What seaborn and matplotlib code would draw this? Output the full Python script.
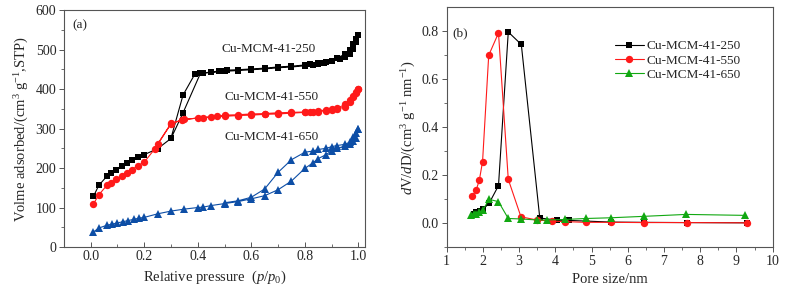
import matplotlib
matplotlib.use("Agg")
import matplotlib.pyplot as plt
import seaborn as sns
import pandas as pd

# (a) N2 isotherms: adsorption branch then desorption branch
p250_ads = [0.01, 0.03, 0.06, 0.075, 0.095, 0.115, 0.135, 0.155, 0.175, 0.2, 0.25, 0.3, 0.345, 0.41,
            0.45, 0.5, 0.55, 0.6, 0.65, 0.7, 0.75, 0.8, 0.83, 0.85, 0.87, 0.9, 0.93, 0.95, 0.97, 0.98, 0.99, 1.0]
v250_ads = [128, 156, 179, 188, 196, 206, 213, 221, 228, 234, 249, 275, 340, 440,
            442, 445, 447, 449, 451, 454, 456, 459, 462, 464, 466, 470, 476, 481, 490, 502, 518, 537]
p250_des = [1.0, 0.99, 0.98, 0.97, 0.95, 0.92, 0.9, 0.88, 0.85, 0.82, 0.8, 0.75, 0.7, 0.65, 0.6,
            0.55, 0.51, 0.48, 0.45, 0.42, 0.39, 0.345, 0.3]
v250_des = [537, 527, 515, 500, 488, 479, 472, 469, 467, 464, 461, 458, 456, 453, 451,
            449, 448, 446, 443, 441, 439, 385, 276]

p550_ads = [0.01, 0.03, 0.06, 0.075, 0.095, 0.115, 0.135, 0.155, 0.175, 0.2, 0.24, 0.3, 0.34, 0.4,
            0.45, 0.5, 0.55, 0.6, 0.65, 0.7, 0.75, 0.8, 0.83, 0.85, 0.88, 0.9, 0.92, 0.95, 0.97, 0.98, 0.99, 1.0]
v550_ads = [109, 132, 156, 162, 171, 179, 188, 196, 206, 215, 249, 312, 322, 327,
            329, 331, 333, 334, 336, 337, 339, 341, 342, 343, 345, 347, 349, 355, 368, 380, 390, 401]
p550_des = [1.0, 0.99, 0.98, 0.97, 0.95, 0.92, 0.9, 0.88, 0.85, 0.82, 0.8, 0.75, 0.7, 0.65, 0.6,
            0.55, 0.5, 0.47, 0.42, 0.35, 0.3, 0.25]
v550_des = [401, 392, 383, 372, 361, 351, 349, 347, 345, 343, 342, 341, 340, 338, 337,
            335, 334, 331, 328, 323, 313, 261]

p650_ads = [0.01, 0.03, 0.06, 0.08, 0.1, 0.12, 0.14, 0.16, 0.18, 0.2, 0.25, 0.3, 0.35, 0.4, 0.42,
            0.45, 0.5, 0.55, 0.6, 0.65, 0.7, 0.75, 0.8, 0.83, 0.85, 0.88, 0.9, 0.92, 0.95, 0.97, 0.98, 0.99, 1.0]
v650_ads = [38, 48, 55, 58, 61, 64, 67, 70, 73, 75, 84, 91, 96, 100, 101,
            105, 110, 115, 122, 130, 145, 167, 199, 213, 224, 234, 244, 250, 255, 262, 268, 276, 300]
p650_des = [1.0, 0.99, 0.98, 0.97, 0.95, 0.92, 0.9, 0.88, 0.85, 0.83, 0.8, 0.75, 0.7, 0.65, 0.6, 0.55, 0.5]
v650_des = [300, 288, 278, 266, 260, 257, 254, 250, 247, 243, 240, 221, 189, 147, 126, 117, 112]

# (b) pore size distributions
d250 = [1.74, 1.80, 1.86, 1.92, 2.0, 2.17, 2.43, 2.70, 3.06, 3.57, 4.05, 4.38, 5.55, 6.45, 7.63, 9.3]
f250 = [0.040, 0.046, 0.047, 0.050, 0.058, 0.083, 0.157, 0.797, 0.745, 0.022, 0.013, 0.012,
        0.005, 0.004, 0.003, 0.002]
d550 = [1.71, 1.81, 1.90, 1.99, 2.16, 2.43, 2.70, 3.05, 3.48, 3.90, 4.27, 4.84, 5.53, 6.45, 7.63, 9.3]
f550 = [0.113, 0.137, 0.179, 0.257, 0.700, 0.793, 0.183, 0.027, 0.014, 0.009, 0.007, 0.004,
        0.004, 0.003, 0.003, 0.002]
d650 = [1.68, 1.74, 1.80, 1.88, 2.0, 2.17, 2.43, 2.70, 3.06, 3.48, 3.78, 4.27, 4.84, 5.53, 6.45, 7.61, 9.24]
f650 = [0.036, 0.038, 0.040, 0.045, 0.055, 0.100, 0.090, 0.020, 0.018, 0.014, 0.014, 0.016,
        0.020, 0.023, 0.029, 0.037, 0.033]

names = ["Cu-MCM-41-250", "Cu-MCM-41-550", "Cu-MCM-41-650"]

sns.set_style("ticks")
plt.rcParams['font.family'] = ['Liberation Serif', 'DejaVu Serif']
plt.rcParams['mathtext.fontset'] = 'custom'
plt.rcParams['mathtext.rm'] = 'Liberation Serif'
plt.rcParams['mathtext.it'] = 'Liberation Serif:italic'
plt.rcParams['font.size'] = 10

fig = plt.figure(figsize=(7.87, 2.95), dpi=100)
ax1 = fig.add_axes([0.0813, 0.1627, 0.3825, 0.803])
ax2 = fig.add_axes([0.5676, 0.1617, 0.4142, 0.8136])

iso = [(p250_ads + p250_des, v250_ads + v250_des, "black", "s", 4.6),
       (p550_ads + p550_des, v550_ads + v550_des, "#ff1a1a", "o", 5.3),
       (p650_ads + p650_des, v650_ads + v650_des, "#0d4ea6", "^", 5.5)]
for (p, v, c, m, ms), nm in zip(iso, names):
    df = pd.DataFrame({"p": p, "v": v})
    sns.lineplot(data=df, x="p", y="v", sort=False, estimator=None, color=c, marker=m,
                 markersize=ms, markeredgewidth=0, linewidth=0.8, ax=ax1)

ax1.set_xlim(-0.1, 1.025)
ax1.set_ylim(0, 600)
ax1.set_xticks([0.0, 0.2, 0.4, 0.6, 0.8, 1.0])
ax1.set_xticks([-0.1, 0.1, 0.3, 0.5, 0.7, 0.9], minor=True)
ax1.set_yticks(range(0, 601, 100))
ax1.set_yticks(range(50, 600, 100), minor=True)
ax1.set_xticklabels(["0.0", "0.2", "0.4", "0.6", "0.8", "1.0"])
ax1.set_xlabel("Relative pressure  ($p/p_0$)", fontsize=10.5)
ax1.set_ylabel("Volme adsorbed/(cm$^{3}$ g$^{-1}$,STP)", fontsize=10.5, labelpad=3)
ax1.text(-0.04, 562, "(a)", ha="center", va="center", fontsize=9.5)
ax1.text(0.665, 502, names[0], ha="center", va="center", fontsize=9.5)
ax1.text(0.677, 380, names[1], ha="center", va="center", fontsize=9.5)
ax1.text(0.677, 278, names[2], ha="center", va="center", fontsize=9.5)

psd = [(d250, f250, "black", "s", 4.6),
       (d550, f550, "#ff1a1a", "o", 5.3),
       (d650, f650, "#11a811", "^", 5.5)]
for (d, f, c, m, ms), nm in zip(psd, names):
    df = pd.DataFrame({"d": d, "f": f})
    sns.lineplot(data=df, x="d", y="f", sort=False, estimator=None, color=c, marker=m,
                 markersize=ms, markeredgewidth=0, linewidth=0.8, label=nm, ax=ax2)

ax2.set_xlim(1, 10)
ax2.set_ylim(-0.1, 0.9)
ax2.set_xticks(range(1, 11))
ax2.set_xticks([x + 0.5 for x in range(1, 10)], minor=True)
ax2.set_yticks([0.0, 0.2, 0.4, 0.6, 0.8])
ax2.set_yticks([-0.1, 0.1, 0.3, 0.5, 0.7], minor=True)
ax2.set_yticklabels(["0.0", "0.2", "0.4", "0.6", "0.8"])
ax2.set_xlabel("Pore size/nm", fontsize=10.5)
ax2.set_ylabel("$d$V/$d$D/(cm$^{3}$ g$^{-1}$ nm$^{-1}$)", fontsize=10.5, labelpad=3)
ax2.text(1.37, 0.79, "(b)", ha="center", va="center", fontsize=9.5)
ax2.legend(loc="upper left", bbox_to_anchor=(0.5, 0.885), frameon=False, fontsize=9.5,
           handlelength=2.2, handletextpad=0.2, labelspacing=0.15, borderaxespad=0)

for ax in (ax1, ax2):
    for s in ax.spines.values():
        s.set_color("#555555")
        s.set_linewidth(0.8)
    ax.tick_params(which="major", length=3.5, width=0.7, color="#555555", labelsize=10, pad=2)
    ax.tick_params(which="minor", length=2, width=0.6, color="#555555")
ax1.tick_params(axis="x", which="both", direction="in")

fig.savefig("out.png", dpi=100)
